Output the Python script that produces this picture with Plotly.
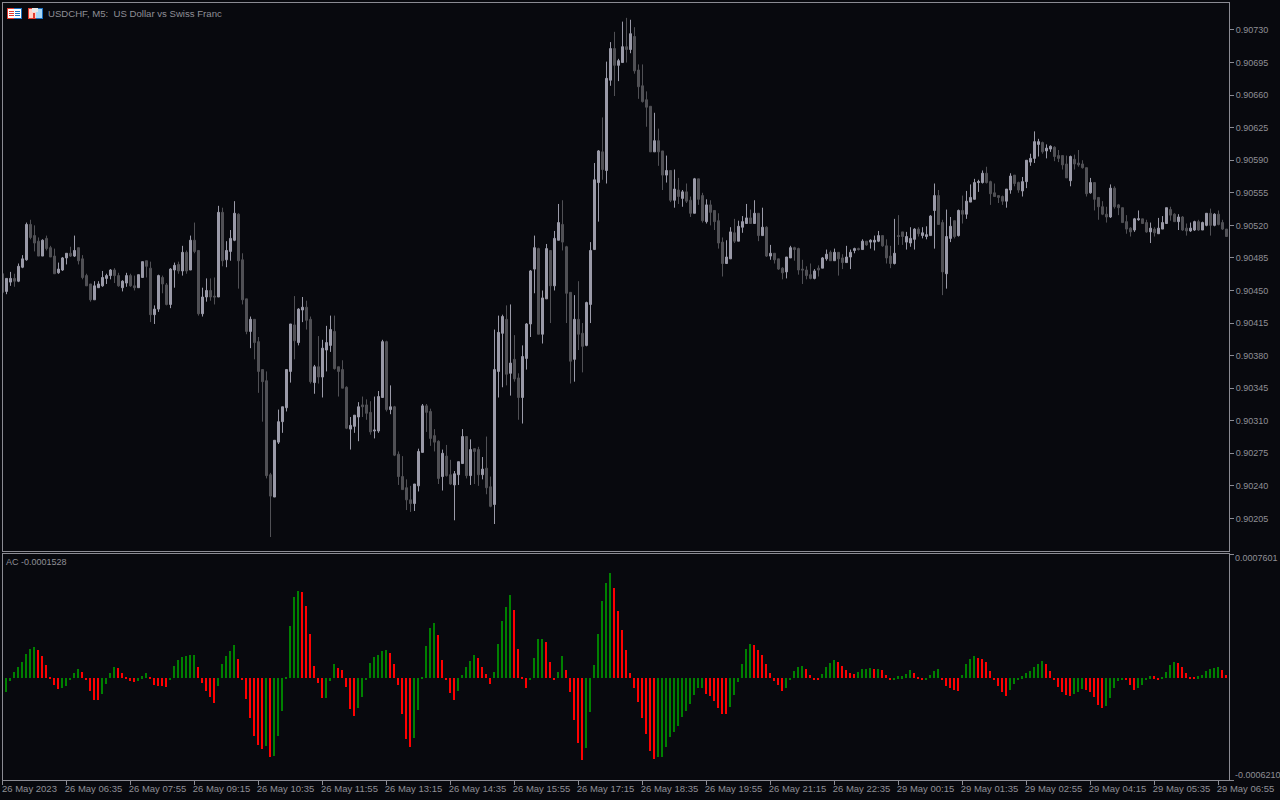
import plotly.graph_objects as go

# Prices are stored as points above 0.90000 (1 point = 0.00001)
open_pts = [
468,449,459,463,460,475,483,521,509,503, 487,506,496,487,469,472,485,490,487,496,
484,466,457,440,453,455,463,466,472,466, 453,458,466,455,453,464,482,474,424,430,
464,456,435,472,478,471,491,472,504,493, 425,443,450,444,443,534,483,492,504,532,
483,441,406,419,395,365,353,252,228,287, 309,324,363,413,394,429,432,419,351,368,
357,386,391,406,368,365,346,301,304,314, 327,327,319,299,299,335,395,322,325,274,
250,238,225,221,240,276,326,320,294,288, 250,272,252,241,252,264,293,251,280,279,
252,259,239,220,363,404,419,361,376,356, 335,377,414,473,495,403,441,493,455,504,
521,497,448,376,419,404,391,435,494,566, 599,579,676,710,692,695,712,709,723,687,
670,655,648,599,611,600,574,579,547,558, 549,556,547,533,570,552,524,542,536,525,
502,479,484,512,503,518,522,528,522,533, 509,518,487,490,484,474,470,485,496,495,
473,472,467,463,474,474,484,491,482,491, 485,480,486,493,495,494,503,502,502,503,
509,498,487,479,509,513,502,501,505,516, 509,508,509,536,552,523,468,506,525,509,
536,532,545,548,566,566,576,567,555,552, 551,546,558,574,566,557,567,588,592,607,
609,600,602,604,595,595,586,568,591,587, 586,582,555,566,550,540,532,529,560,542,
539,524,517,515,526,527,523,513,516,511, 516,522,537,532,524,529,517,514,515,524,
515,520,533,520,532,523,516]
close_pts = [
448,463,463,460,476,484,521,507,501,487, 504,495,486,468,473,485,490,487,493,482,
464,455,440,455,457,464,466,472,466,455, 460,466,455,453,467,481,476,424,430,466,
457,435,473,477,471,491,471,504,492,425, 443,450,443,443,534,482,493,506,533,482,
440,406,419,394,363,352,251,229,289,309, 325,365,414,396,430,432,418,352,368,357,
388,394,408,366,363,345,302,305,316,325, 325,318,298,300,336,395,322,325,273,250,
236,225,221,242,277,326,319,291,287,248, 275,251,242,253,266,293,251,279,277,252,
258,238,218,365,405,422,360,372,355,335, 379,414,471,496,403,442,495,455,506,523,
502,447,374,419,403,390,437,493,569,600, 580,678,710,692,697,712,709,726,686,669,
653,647,599,611,599,574,579,547,559,551, 556,546,533,570,548,525,542,534,524,501,
479,486,513,503,519,524,528,522,533,509, 518,487,490,483,473,469,486,496,494,472,
472,466,463,471,472,485,489,482,491,484, 480,486,491,495,494,503,499,504,504,509,
498,485,479,490,508,508,508,506,516,511, 512,510,530,552,521,470,508,519,508,536,
532,546,550,566,567,576,566,554,551,550, 546,559,573,565,558,567,590,592,610,610,
599,603,605,594,592,585,571,594,586,585, 582,554,566,548,540,532,529,560,540,539,
523,516,513,527,527,522,513,517,512,517, 523,539,531,524,529,515,514,517,524,515,
523,533,520,532,521,516,508]
high_pts = [
468,463,470,468,479,488,523,526,520,507, 505,509,498,495,480,486,490,497,509,496,
488,468,457,460,460,471,468,473,474,469, 461,469,468,466,467,481,482,481,434,467,
466,458,474,480,481,498,493,509,523,493, 453,463,463,464,541,539,503,515,546,533,
490,441,422,419,400,365,363,254,289,322, 325,365,414,444,431,443,439,422,370,401,
397,412,423,423,368,375,347,314,316,330, 336,333,331,336,342,397,396,348,326,277,
272,247,240,242,280,328,328,323,301,289, 279,284,268,256,266,301,293,290,280,282,
271,293,250,408,423,424,434,435,402,361, 391,415,472,509,496,450,500,493,514,543,
547,498,448,445,460,415,438,502,587,601, 636,696,717,728,699,739,743,741,733,693,
693,664,648,641,624,600,595,579,580,571, 558,565,551,571,570,555,548,547,536,533,
507,504,518,527,525,530,543,537,547,533, 539,519,499,490,484,475,486,498,497,496,
483,476,479,473,477,486,494,493,495,491, 489,498,494,496,496,505,503,505,509,514,
509,505,498,527,531,513,513,518,517,518, 518,519,531,565,558,526,537,529,525,537,
552,557,564,570,569,579,583,568,565,552, 552,559,576,574,567,572,590,597,621,613,
610,607,606,605,601,595,595,595,596,601, 590,582,571,566,550,546,540,564,562,543,
539,531,518,528,536,527,526,523,518,528, 530,539,540,533,532,530,522,523,525,526,
524,533,538,533,536,526,516]
low_pts = [
447,446,455,454,459,474,482,505,492,487, 487,493,486,468,468,471,478,486,486,478,
462,455,438,440,453,454,457,462,458,454, 449,454,454,450,453,464,464,416,414,427,
447,434,431,453,468,466,468,472,490,423, 422,438,439,435,443,476,475,482,503,452,
435,403,388,376,340,309,248,185,228,285, 297,320,351,376,391,416,408,350,339,350,
335,363,384,365,336,345,301,279,297,288, 314,311,295,291,297,335,320,317,272,241,
236,214,212,213,234,276,298,283,277,242, 235,250,241,203,241,264,248,241,242,240,
247,231,217,199,335,346,348,337,352,311, 307,365,400,447,403,393,441,415,450,504,
493,415,350,352,386,362,390,415,494,524, 569,565,670,659,675,695,695,705,683,656,
652,626,599,599,584,558,566,545,539,543, 540,544,529,533,542,523,522,520,515,495,
465,479,484,501,503,512,522,522,522,503, 509,486,483,479,472,462,463,485,482,467,
457,462,462,462,465,474,482,482,482,466, 473,480,473,490,493,494,498,495,493,502,
497,479,474,478,499,499,494,497,494,508, 506,505,509,495,521,445,452,502,506,508,
522,527,545,548,556,565,565,542,551,544, 542,539,554,562,555,551,560,584,587,594,
597,592,599,589,588,580,571,562,580,583, 581,551,554,536,526,531,523,528,538,531,
523,511,508,513,525,522,512,501,508,511, 516,522,525,524,515,514,509,513,514,514,
515,519,509,519,520,515,508]

# AC oscillator values in units of 1e-6
ac_vals = [
0,-86,-18,37,67,98,147,177,189,171,134, 79,6,-43,-67,-61,-49,-12,31,55,37,
-6,-79,-134,-134,-98,-37,31,67,61,31, 6,-18,-24,-18,12,31,6,-43,-49,-49,
-55,-12,73,110,128,134,141,141,67,-31, -79,-116,-153,-49,86,134,165,202,116,-6,
-128,-244,-354,-409,-434,-416,-483,-477,-354,-202, 6,318,495,532,526,440,269,73,-31,
-122,-122,-18,86,61,49,-55,-189,-232,-183, -116,-12,92,128,141,165,171,153,86,-43,
-220,-373,-422,-367,-196,6,196,306,336,263, 110,-12,-92,-134,-79,18,67,104,141,122,
67,24,-37,37,208,348,434,507,416,177, 6,-61,-6,122,238,238,220,98,-6,37,
134,49,-86,-257,-397,-501,-428,-208,79,269, 470,581,642,550,409,293,171,31,-61,-147,
-244,-342,-446,-495,-483,-483,-422,-360,-330,-293, -238,-202,-159,-104,-61,-61,-98,-110,-141,-183,
-220,-220,-177,-104,-24,86,177,208,202,171, 141,86,31,-18,-43,-79,-61,-6,43,67,
73,55,18,-12,-12,24,67,92,110,98, 73,49,31,24,37,55,55,61,55,55,
49,18,-6,-6,12,12,24,49,31,6, -6,-6,18,43,55,-12,-49,-61,-73,-79,
18,86,116,134,122,116,98,43,-6,-49, -86,-110,-73,-37,-6,12,31,43,67,86,
104,86,43,-12,-55,-86,-104,-110,-98,-86, -67,-73,-86,-116,-165,-183,-171,-122,-61,-18,
-6,-6,-43,-73,-61,-43,-12,12,12,-6, 6,37,79,98,92,67,31,6,6,12,
18,43,55,61,67,49,18]
ac_up = [
0,1,1,1,1,1,1,1,1,0,0, 0,0,0,0,1,1,1,1,1,0,
0,0,0,0,1,1,1,1,0,0, 0,0,0,1,1,1,0,0,0,0,
0,1,1,1,1,1,1,1,0,0, 0,0,0,1,1,1,1,1,0,0,
0,0,0,0,0,1,0,1,1,1, 1,1,1,1,0,0,0,0,0,
0,1,1,1,0,0,0,0,0,1, 1,1,1,1,1,1,1,0,0,0,
0,0,0,1,1,1,1,1,1,0, 0,0,0,0,1,1,1,1,1,0,
0,0,0,1,1,1,1,1,0,0, 0,0,1,1,1,1,0,0,0,1,
1,0,0,0,0,0,1,1,1,1, 1,1,1,0,0,0,0,0,0,0,
0,0,0,0,1,1,1,1,1,1, 1,1,1,1,1,1,0,0,0,0,
0,0,1,1,1,1,1,1,0,0, 0,0,0,0,0,0,1,1,1,1,
1,0,0,0,0,1,1,1,1,0, 0,0,0,0,1,1,1,1,0,1,
0,0,0,1,1,1,1,1,0,0, 0,1,1,1,1,0,0,0,0,0,
1,1,1,1,0,0,0,0,0,0, 0,0,1,1,1,1,1,1,1,1,
1,0,0,0,0,0,0,0,1,1, 1,0,0,0,0,0,1,1,1,1,
1,0,0,0,1,1,1,1,0,0, 1,1,1,1,0,0,0,0,0,1,
1,1,1,1,1,0,0]

price_ticks = [0.90730,0.90695,0.90660,0.90625,0.90590,0.90555,0.90520,0.90485,
               0.90450,0.90415,0.90380,0.90345,0.90310,0.90275,0.90240,0.90205]
time_tick_labels = ["26 May 2023","26 May 06:35","26 May 07:55","26 May 09:15","26 May 10:35",
    "26 May 11:55","26 May 13:15","26 May 14:35","26 May 15:55","26 May 17:15","26 May 18:35",
    "26 May 19:55","26 May 21:15","26 May 22:35","29 May 00:15","29 May 01:35","29 May 02:55",
    "29 May 04:15","29 May 05:35","29 May 06:55"]
time_tick_step = 16
title_text = "USDCHF, M5:  US Dollar vs Swiss Franc"
ac_label = "AC -0.0001528"
ac_top, ac_bottom = 0.0007601, -0.0006210

BG = "#08090e"
FRAME = "#8b8b93"
TXT = "#8f8f96"
UP = "#9a9aa8"
DOWN = "#505055"
FONT = "Liberation Sans"

n = len(open_pts)
x = list(range(n))
to_price = lambda arr: [0.9 + v * 1e-5 for v in arr]

fig = go.Figure()
fig.add_trace(go.Candlestick(
    x=x, open=to_price(open_pts), high=to_price(high_pts), low=to_price(low_pts), close=to_price(close_pts),
    increasing=dict(line=dict(color=UP, width=1), fillcolor=UP),
    decreasing=dict(line=dict(color=DOWN, width=1), fillcolor=DOWN),
    whiskerwidth=0, xaxis="x", yaxis="y", showlegend=False, hoverinfo="skip"))
fig.add_trace(go.Bar(
    x=x, y=[v * 1e-6 for v in ac_vals],
    marker=dict(color=["#008000" if u else "#ff0000" for u in ac_up], line=dict(width=0)),
    width=0.5, offset=-0.375, xaxis="x2", yaxis="y2", showlegend=False, hoverinfo="skip"))

W, H = 1280, 800
L, R, T, B = 3, 51, 3, 20
pw, ph = W - L - R, H - T - B
xr = [0.125, 0.125 + pw / 4]
px = lambda v: (v - L) / pw
py = lambda v: (H - B - v) / ph

common_axis = dict(showgrid=False, zeroline=False, showline=True, mirror=True,
                   linecolor=FRAME, linewidth=1)
tick_font = dict(family=FONT, size=9, color=TXT)
time_font = dict(family=FONT, size=9.5, color=TXT)

fig.update_layout(
    width=W, height=H, margin=dict(l=L, r=R, t=T, b=B),
    paper_bgcolor=BG, plot_bgcolor=BG, bargap=0, showlegend=False, dragmode=False,
    boxgap=0.5, boxgroupgap=0,
    xaxis=dict(common_axis, domain=[0, 1], range=xr, anchor="y", showticklabels=False, ticks="",
               rangeslider=dict(visible=False)),
    yaxis=dict(common_axis, domain=[py(551), 1], range=[0.90170, 0.90759], side="right", anchor="x",
               tickmode="array", tickvals=price_ticks, ticktext=[f"{p:.5f}" for p in price_ticks],
               ticks="outside", ticklen=4, tickcolor=FRAME, tickfont=tick_font),
    xaxis2=dict(common_axis, domain=[0, 1], range=xr, anchor="y2",
                tickmode="array",
                tickvals=[i * time_tick_step for i in range(1, len(time_tick_labels))],
                ticktext=time_tick_labels[1:], ticks="outside", ticklen=4, tickcolor=FRAME,
                tickfont=time_font, tickangle=0, ticklabelshift=27, ticklabelstandoff=-4,
                ticklabeloverflow="allow"),
    yaxis2=dict(common_axis, domain=[0, py(554)], range=[ac_bottom, ac_top], side="right", anchor="x2",
                tickmode="array", tickvals=[ac_top, ac_bottom], ticktext=["", ""],
                ticks="outside", ticklen=4, tickcolor=FRAME),
)

def note(text, **kw):
    fig.add_annotation(text=text, showarrow=False, xanchor="left", yanchor="middle",
                       font=dict(family=FONT, size=kw.pop("size", 9), color=TXT), **kw)

note(title_text, xref="paper", yref="paper", x=px(46), y=py(13), size=9.6)
note(ac_label, xref="paper", yref="paper", x=px(4), y=py(562), size=9)
note(f"{ac_top:.7f}", xref="paper", yref="y2", x=1, y=ac_top, xshift=4, yshift=-4)
note(f"{ac_bottom:.7f}", xref="paper", yref="y2", x=1, y=ac_bottom, xshift=4, yshift=5)
note(time_tick_labels[0], xref="paper", yref="paper", x=px(0), y=py(788), size=9.5)

def rect(x0, y0, x1, y1, fill):
    fig.add_shape(type="rect", xref="paper", yref="paper", x0=px(x0), x1=px(x1), y0=py(y1), y1=py(y0),
                  fillcolor=fill, line=dict(width=0), layer="above")

rect(2, 781, 3, 785, FRAME)  # tick of the first time label, which sits on the frame

RED, BLUE = "#e03a2f", "#1a6fc0"
# table icon
rect(7, 8, 22, 19, BLUE); rect(7, 8, 14, 19, RED); rect(8, 9, 21, 18, "#ffffff")
for yy in (11, 13, 15):
    rect(9, yy, 14, yy + 1, RED); rect(15, yy, 20, yy + 1, BLUE)
# save icon
rect(28, 8, 36, 19, RED); rect(36, 8, 43, 19, BLUE)
rect(29, 9, 36, 18, "#ffd2c8"); rect(36, 9, 42, 18, "#a8d8f8")
rect(32, 8, 38, 12, "#e8e8e8"); rect(33, 13, 35, 18, RED)

fig.write_html("out.html", config=dict(displayModeBar=False),
               post_script="document.body.style.margin='0';document.body.style.background='#08090e';")
